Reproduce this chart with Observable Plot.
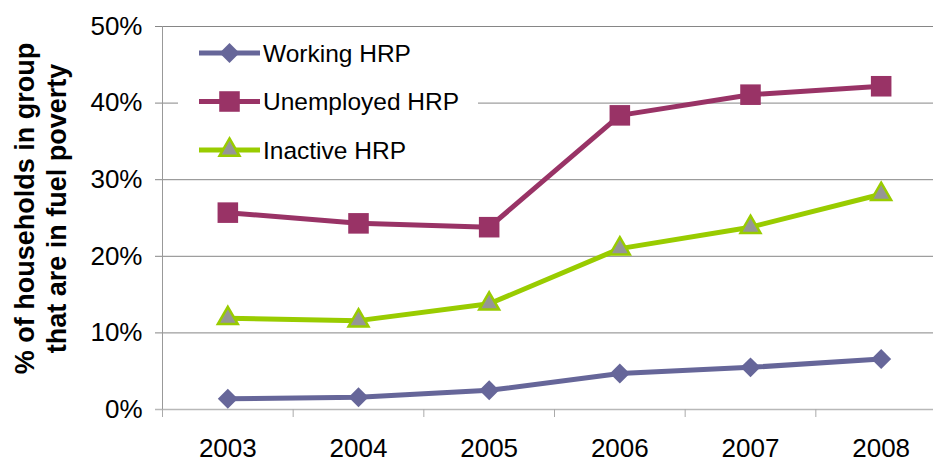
<!DOCTYPE html>
<html>
<head>
<meta charset="utf-8">
<script src="https://cdn.jsdelivr.net/npm/d3@7"></script>
<script src="https://cdn.jsdelivr.net/npm/@observablehq/plot@0.6"></script>
<style>
  html, body { margin: 0; padding: 0; overflow: hidden; background: #fff; }
  #wrap { position: relative; width: 933px; height: 459px; overflow: hidden; font-family: "Liberation Sans", Arial, sans-serif; }
  #wrap > svg.chart { max-width: none !important; }
  #legend { position: absolute; left: 178px; top: 31px; }
</style>
</head>
<body>
<div id="wrap"></div>
<script>
const years = [2003, 2004, 2005, 2006, 2007, 2008];
const xLabels = ["2003", "2004", "2005", "2006", "2007", "2008"];
const yTicks = [0, 10, 20, 30, 40, 50];
const seriesNames = ["Working HRP", "Unemployed HRP", "Inactive HRP"];
const working = [1.4, 1.6, 2.5, 4.7, 5.5, 6.6];
const unemployed = [25.7, 24.3, 23.8, 38.4, 41.1, 42.2];
const inactive = [11.9, 11.6, 13.8, 21.0, 23.8, 28.1];
const yTitle = "% of households in group\nthat are in fuel poverty";

const seriesValues = [working, unemployed, inactive];
const styles = [
  {line: "#666699", fill: "#666699", stroke: "none", symbol: "diamond2", r: 9, sw: 0},
  {line: "#993366", fill: "#993366", stroke: "none", symbol: "square", r: 11.6, sw: 0},
  {line: "#99CC00", fill: "#969696", stroke: "#99CC00", symbol: "triangle", r: 7.4, sw: 2.5}
];
const boundaries = d3.range(years.length + 1).map(i => years[0] - 0.5 + i);

const marks = [];
// gridlines
marks.push(Plot.ruleY(yTicks.filter(d => d > 0), {y: d => d, stroke: "#868686", strokeWidth: 1, insetLeft: -7}));
marks.push(Plot.ruleY([0], {y: d => d, stroke: "#b8b8b8", strokeWidth: 1.5, insetLeft: -7}));
// y axis line
marks.push(Plot.ruleX([boundaries[0]], {x: d => d, stroke: "#999999"}));
// x boundary ticks
marks.push(Plot.axisX(boundaries, {tickSize: 8, tickFormat: () => "", stroke: "#aaaaaa", label: null}));
// x labels
marks.push(Plot.axisX(years, {tickSize: 0, tickPadding: 29.5, fontSize: 26, fill: "#000", label: null, tickFormat: (d) => xLabels[years.indexOf(d)]}));
// y labels
marks.push(Plot.axisY(yTicks, {tickSize: 0, tickPadding: 20, fontSize: 26, fill: "#000", label: null, tickFormat: d => d + "%"}));
// y title
marks.push(Plot.text([yTitle], {frameAnchor: "left", rotate: -90, fontSize: 27, fontWeight: "bold", fill: "#000", lineHeight: 1.2, dx: -123, dy: -9.5, textAnchor: "middle", lineAnchor: "middle"}));

seriesValues.forEach((vals, k) => {
  const rows = years.map((y, i) => ({year: y, value: vals[i]}));
  const s = styles[k];
  marks.push(Plot.line(rows, {x: "year", y: "value", stroke: s.line, strokeWidth: 5, strokeLinejoin: "round", strokeLinecap: "butt"}));
  marks.push(Plot.dot(rows, {x: "year", y: "value", symbol: () => s.symbol, r: s.r, fill: s.fill, stroke: s.stroke, strokeWidth: s.sw}));
});

const chart = Plot.plot({
  width: 960,
  height: 459,
  marginLeft: 162,
  marginRight: 14,
  marginTop: 26,
  marginBottom: 50,
  className: "chart",
  style: {fontFamily: "'Liberation Sans', Arial, sans-serif", color: "#000", background: "#fff", overflow: "visible", maxWidth: "none"},
  x: {domain: [boundaries[0], boundaries[boundaries.length - 1]], axis: null},
  y: {domain: [0, 50], axis: null},
  marks
});
chart.style.maxWidth = "none";
chart.style.width = "960px";
chart.style.height = "459px";
document.getElementById("wrap").appendChild(chart);

// legend overlay inside the plot area
const lw = 300, lh = 142;
const leg = d3.select("#wrap").append("svg").attr("id", "legend").attr("width", lw).attr("height", lh)
  .style("background", "#fff");
seriesNames.forEach((name, k) => {
  const s = styles[k];
  const cy = 22 + k * 48.5;
  const g = leg.append("g").attr("transform", `translate(0,${cy})`);
  g.append("line").attr("x1", 21).attr("x2", 82).attr("y1", 0).attr("y2", 0)
    .attr("stroke", s.line).attr("stroke-width", 5);
  const sym = {diamond2: d3.symbolDiamond2, square: d3.symbolSquare, triangle: d3.symbolTriangle}[s.symbol];
  g.append("path").attr("transform", "translate(51.5,0)")
    .attr("d", d3.symbol(sym, s.r * s.r * Math.PI)())
    .attr("fill", s.fill).attr("stroke", s.stroke).attr("stroke-width", s.sw);
  g.append("text").attr("x", 85).attr("y", 0).attr("dy", "0.35em")
    .attr("font-size", 24.5).attr("fill", "#000")
    .attr("font-family", "'Liberation Sans', Arial, sans-serif").text(name);
});
</script>
</body>
</html>
